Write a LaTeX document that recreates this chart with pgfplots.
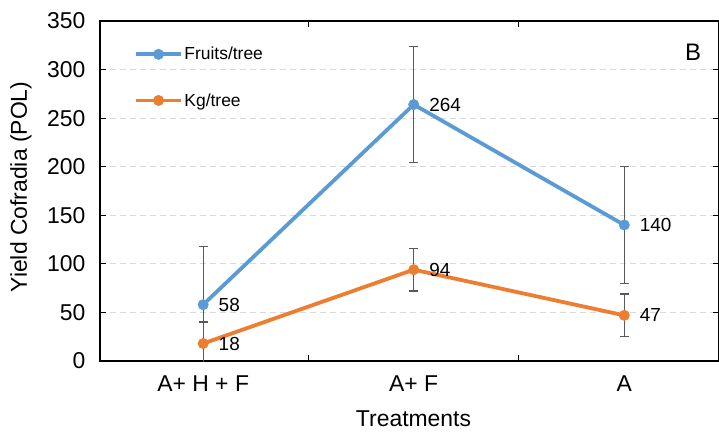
\documentclass[border=0pt]{standalone}
\usepackage{pgfplots}
\pgfplotsset{compat=1.18}
\usepackage{fontspec}
\setmainfont{Liberation Sans}
\definecolor{cblue}{HTML}{5B9BD5}
\definecolor{corange}{HTML}{ED7D31}
\definecolor{cerr}{HTML}{595959}
\definecolor{cgrid}{HTML}{D9D9D9}

\pgfplotstableread{
x y e
0 58 60
1 264 60
2 140 60
}\fruits
\pgfplotstableread{
x y e
0 18 22
1 94 22
2 47 22
}\kg

\begin{document}
\begin{tikzpicture}
\begin{axis}[
  scale only axis, width=619bp, height=340bp,
  xmin=-0.49, xmax=2.45, ymin=0, ymax=350,
  xtick={0.5,1.5}, xticklabels={},
  extra x ticks={0,1,2}, extra x tick labels={A+ H + F, A+ F, A},
  extra x tick style={major tick length=0pt, grid=none},
  x tick style={black, line width=1bp},
  tick align=inside, major tick length=6bp,
  ytick={0,50,...,350},
  y tick style={black, line width=1bp},
  ymajorgrids,
  grid style={cgrid, dash pattern=on 6bp off 4bp, line width=1.2bp},
  axis line style={black, line width=1.3bp},
  ticklabel style={font=\fontsize{23}{27}\selectfont},
  xticklabel style={yshift=-11bp},
  yticklabel style={xshift=-11bp},
  /pgf/number format/assume math mode=true,
  clip mode=individual,
  legend style={at={(0.05,0.935)}, anchor=north west, draw=none, fill=none,
    font=\fontsize{17.5}{20}\selectfont, row sep=28bp, legend cell align=left,
    nodes={inner xsep=1.5bp}},
  legend image code/.code={\draw[#1, mark repeat=2, mark phase=2] plot coordinates {(0bp,0bp) (22.5bp,0bp) (45bp,0bp)};},
  nodes near coords,
  nodes near coords style={anchor=west, xshift=12bp, text=black, font=\fontsize{19}{22}\selectfont},
  point meta=y,
]
\addplot[cblue, line width=3.8bp, mark=*, mark size=5.2bp, mark options={fill=cblue, draw=cblue, line width=0.5bp},
  error bars/.cd, y dir=both, y explicit,
  error bar style={cerr, line width=1.3bp},
  error mark options={rotate=90, mark size=4.5bp, cerr, line width=1.3bp}]
  table[x=x, y=y, y error=e]{\fruits};
\addlegendentry{Fruits/tree}
\addplot[corange, line width=3.8bp, mark=*, mark size=5.2bp, mark options={fill=corange, draw=corange, line width=0.5bp},
  error bars/.cd, y dir=both, y explicit,
  error bar style={cerr, line width=1.3bp},
  error mark options={rotate=90, mark size=4.5bp, cerr, line width=1.3bp}]
  table[x=x, y=y, y error=e]{\kg};
\addlegendentry{Kg/tree}
\node[font=\fontsize{24}{28}\selectfont] at (rel axis cs:0.958,0.909) {B};
\coordinate (bl) at (rel axis cs:0,0);
\coordinate (tr) at (rel axis cs:1,1);
\coordinate (ml) at (rel axis cs:0,0.5);
\coordinate (mb) at (rel axis cs:0.5,0);
\end{axis}
\node[rotate=90, font=\fontsize{23}{27}\selectfont] at ([shift={(-79bp,4bp)}]ml) {Yield Cofradia (POL)};
\node[font=\fontsize{23}{27}\selectfont] at ([shift={(4bp,-58bp)}]mb) {Treatments};
\pgfresetboundingbox
\path[use as bounding box] ([shift={(-100bp,-71bp)}]bl) rectangle ([shift={(0bp,21bp)}]tr);
\end{tikzpicture}
\end{document}
